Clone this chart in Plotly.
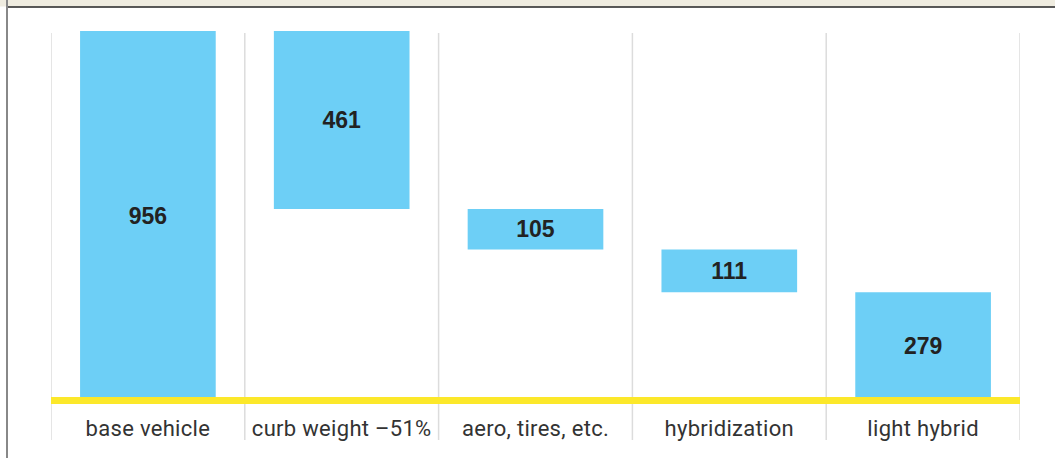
import plotly.graph_objects as go

categories = ["base vehicle", "curb weight \u201351%", "aero, tires, etc.", "hybridization", "light hybrid"]
values = [956, -461, -105, -111, 279]
measures = ["absolute", "relative", "relative", "relative", "absolute"]
labels = ["956", "461", "105", "111", "279"]

# compute bar bases/heights from the waterfall values
bases, heights = [], []
running = 0
for v, m in zip(values, measures):
    if m == "absolute":
        bases.append(0)
        heights.append(v)
        running = v
    else:
        new = running + v
        bases.append(min(running, new))
        heights.append(abs(v))
        running = new

BAR = "#6dcff6"
YELLOW = "#fce82a"
GRID = "#dcdcdc"

fig = go.Figure()
fig.add_trace(go.Bar(
    x=categories, y=heights, base=bases, width=0.70,
    marker=dict(color=BAR, line=dict(width=0)),
    text=labels, textposition="inside", insidetextanchor="middle",
    textfont=dict(family="Liberation Sans, Arial, sans-serif", size=23, color="#222222", weight="bold"),
    textangle=0, hoverinfo="skip", showlegend=False,
))

W, H = 1055, 458
L, R, T, B = 51, 35, 31, 58
pw, ph = W - L - R, H - T - B

def py(px):  # pixel y -> paper y
    return (H - B - px) / ph

def pxx(px):
    return (px - L) / pw

shapes = []
# vertical separators
for i in range(len(categories) + 1):
    shapes.append(dict(type="line", xref="x", yref="paper", x0=i - 0.5, x1=i - 0.5,
                       y0=py(440), y1=py(33), line=dict(color=GRID, width=1.5), layer="below"))
# yellow baseline
shapes.append(dict(type="line", xref="x", yref="paper", x0=-0.5, x1=len(categories) - 0.5,
                   y0=py(400.5), y1=py(400.5), line=dict(color=YELLOW, width=7), layer="above"))
# top band
shapes.append(dict(type="rect", xref="paper", yref="paper", x0=pxx(0), x1=pxx(W),
                   y0=py(6.5), y1=py(0), fillcolor="#efece0", line=dict(width=0), layer="above"))
shapes.append(dict(type="line", xref="paper", yref="paper", x0=pxx(7), x1=pxx(W),
                   y0=py(7), y1=py(7), line=dict(color="#222222", width=1.5), layer="above"))
# left border
shapes.append(dict(type="line", xref="paper", yref="paper", x0=pxx(7), x1=pxx(7),
                   y0=py(H), y1=py(0), line=dict(color="#888888", width=2), layer="above"))

fig.update_layout(
    width=W, height=H,
    margin=dict(l=L, r=R, t=T, b=B, pad=0),
    paper_bgcolor="white", plot_bgcolor="white",
    bargap=0.3,
    shapes=shapes,
    xaxis=dict(range=[-0.5, len(categories) - 0.5], showgrid=False, zeroline=False, showline=False,
               ticks="outside", ticklen=9, tickcolor="rgba(0,0,0,0)",
               tickfont=dict(family="Roboto, sans-serif", size=22, color="#333333")),
    yaxis=dict(range=[0, 956], showgrid=False, zeroline=False, showline=False, showticklabels=False,
               ticks=""),
)
post = (
    "document.body.style.margin='0';"
    "document.querySelectorAll('.xtick text').forEach(function(t){t.style.letterSpacing='0.3px';});"
)
fig.write_html("out.html", post_script=post, config={"displayModeBar": False})
